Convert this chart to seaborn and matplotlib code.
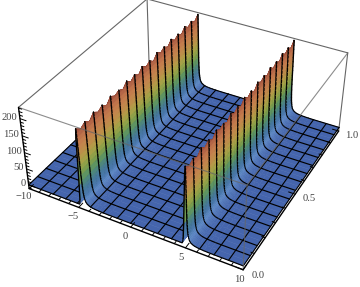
import numpy as np
import seaborn as sns
import matplotlib
matplotlib.use("Agg")
import matplotlib.pyplot as plt
from mpl_toolkits.mplot3d import proj3d
from mpl_toolkits.mplot3d.art3d import Line3DCollection

# valores
peak_centers = [-4.6, 5.0]
offsets = [-1.25, -0.5, -0.3, -0.25, -0.2, -0.15, -0.1, -0.05, 0.0,
           0.01, 0.02, 0.03, 0.04, 0.05, 0.06, 0.07, 0.08, 0.09, 0.1, 0.11, 0.12, 0.14, 0.16, 0.18,
           0.2, 0.23, 0.26, 0.3, 0.35, 0.4, 0.5, 0.6, 0.7, 0.8, 1.0, 1.25, 1.6, 2.0, 2.5]
profile = [0, 0, 0, 3, 15, 60, 130, 200, 232,
           230, 222, 212, 200, 188, 175, 162, 148, 135, 120, 106, 92, 74, 60, 50,
           41, 33, 27, 21, 16, 13, 9, 7, 5, 4, 2.5, 1.5, 0.7, 0.2, 0]
left_flat = [-10.0, -8.75, -7.5, -6.25]
mid_flat = [-1.25, 0.0, 1.25, 2.5]
right_flat = [8.75, 10.0]
ridge_top = [226, 214, 222, 212, 226, 215, 223, 211, 226, 216, 221, 213, 226, 214, 223, 212, 226,
             215, 222, 211, 226, 216, 223, 213, 226, 214, 222, 212, 226, 215, 223, 213, 226]
x_ticks_major = [-10, -5, 0, 5, 10]
y_ticks_major = [0.0, 0.5, 1.0]
z_ticks_major = [0, 50, 100, 150, 200]
surface_colors = ["#4565ad", "#5b86c4", "#4a78ac", "#46789c", "#4b8384", "#55906a", "#6e9a52", "#8aa049",
                  "#a2a247", "#b39c48", "#bd8f4a", "#c4854d", "#c47b4d", "#bb6d49", "#a85a42", "#8a3c30"]

x_lim = (-10, 10)
y_lim = (0, 1)
z_lim = (-12, 232)

sns.set_style("white")
plt.rcParams["font.family"] = ["Liberation Serif", "DejaVu Sans"]
cmap = sns.blend_palette(surface_colors, as_cmap=True)

x_grid = np.array(left_flat + [peak_centers[0] + o for o in offsets] + mid_flat
                  + [peak_centers[1] + o for o in offsets] + right_flat)
z_line = np.array([0, 0, 0, 0] + profile + [0, 0, 0, 0] + profile + [0, 0], dtype=float)
y_grid = np.linspace(0, 1, len(ridge_top))
top = np.array(ridge_top, dtype=float)

fig = plt.figure(figsize=(3.6, 2.87), dpi=100)
ax = fig.add_axes([-0.037, -0.127, 1.1, 1.38], projection="3d", computed_zorder=False)
ax.set_proj_type("persp", focal_length=0.44)
ax.set_box_aspect((1, 1, 0.42), zoom=0.85)
ax.view_init(elev=36.2, azim=-61.6)
ax.set_xlim(*x_lim, view_margin=0)
ax.set_ylim(*y_lim, view_margin=0)
ax.set_zlim(*z_lim, view_margin=0)
ax.set_axis_off()

x0, x1 = x_lim
z0, z1 = z_lim
box = "#666666"

# arestas de trás
for p, q in [((x0, 1, z1), (x1, 1, z1)), ((x0, 0, z1), (x0, 1, z1)), ((x1, 1, z1), (x1, 1, z0)),
             ((x0, 1, z0), (x0, 1, z1)), ((x0, 0, z0), (x0, 1, z0)), ((x0, 1, z0), (x1, 1, z0))]:
    ax.plot(*zip(p, q), color=box, lw=0.8, zorder=-5)

# superfície em tiras, de trás para a frente
mesh_idx = {int(np.argmin(np.abs(x_grid - m))) for m in np.arange(-10, 10.1, 1.25) if m != 5}
for i in range(len(x_grid) - 1):
    xs = np.array([[x_grid[i], x_grid[i + 1]]] * len(y_grid))
    ys = np.column_stack([y_grid, y_grid])
    zs = np.column_stack([np.minimum(z_line[i], top), np.minimum(z_line[i + 1], top)])
    mean_z = (z_line[i] + z_line[i + 1]) / 2
    col = cmap(mean_z / z1)
    ax.plot_surface(xs, ys, zs, color=col, edgecolor=col, linewidth=0.35, shade=False,
                    rstride=1, cstride=1, zorder=i)
    segs = [[(x_grid[i], y_grid[j], zs[j, 0]), (x_grid[i + 1], y_grid[j], zs[j, 1])]
            for j in range(0, len(y_grid), 2)]
    width = 1.0 if mean_z > 25 else 0.85
    ax.add_collection3d(Line3DCollection(segs, colors="black", linewidths=width, capstyle="round",
                                         zorder=i + 0.5))
    if i in mesh_idx:
        ax.plot([x_grid[i]] * len(y_grid), y_grid, np.minimum(z_line[i], top), color="black", lw=0.8,
                zorder=i + 0.6)
ax.plot([x1, x1], [0, 1], [0, 0], color="black", lw=0.8, zorder=len(x_grid))

# arestas da frente, por cima da superfície
front = 500
for p, q in [((x0, 0, z1), (x1, 0, z1)), ((x1, 0, z1), (x1, 1, z1)), ((x1, 0, z0), (x1, 0, z1))]:
    ax.plot(*zip(p, q), color=box, lw=0.8, alpha=0.75, zorder=front)

# eixos e marcas
ax.plot([x0, x1], [0, 0], [z0, z0], color="black", lw=1.0, zorder=front)
ax.plot([x1, x1], [0, 1], [z0, z0], color="black", lw=1.0, zorder=front)
ax.plot([x0, x0], [0, 0], [z0, z1], color="black", lw=1.0, zorder=front)
for v in np.arange(-10, 11):
    d = 0.03 if v in x_ticks_major else 0.015
    ax.plot([v, v], [0, d], [z0, z0], color="black", lw=0.7, zorder=front)
for v in np.arange(0, 11) / 10:
    d = 0.6 if v in y_ticks_major else 0.3
    ax.plot([x1, x1 - d], [v, v], [z0, z0], color="black", lw=0.7, zorder=front)
for v in np.arange(-10, 231, 10):
    d = 0.6 if v in z_ticks_major else 0.3
    ax.plot([x0, x0 + d], [0, 0], [v, v], color="black", lw=0.7, zorder=front)


def label(xv, yv, zv, s, ha="center"):
    xp, yp, _ = proj3d.proj_transform(xv, yv, zv, ax.get_proj())
    ax.text2D(xp, yp, s, transform=ax.transData, color="#444444", fontsize=7.6,
              ha=ha, va="center", zorder=front)


# rótulos
for v in x_ticks_major:
    label(v + 0.2, -0.055, z0, str(v).replace("-", "\u2212"))
for v in y_ticks_major:
    label(x1 + 1.25, v, z0, f"{v:.1f}")
for v in z_ticks_major:
    label(x0 - 0.3, 0, v, str(v), ha="right")

fig.savefig("out.png", dpi=100)
